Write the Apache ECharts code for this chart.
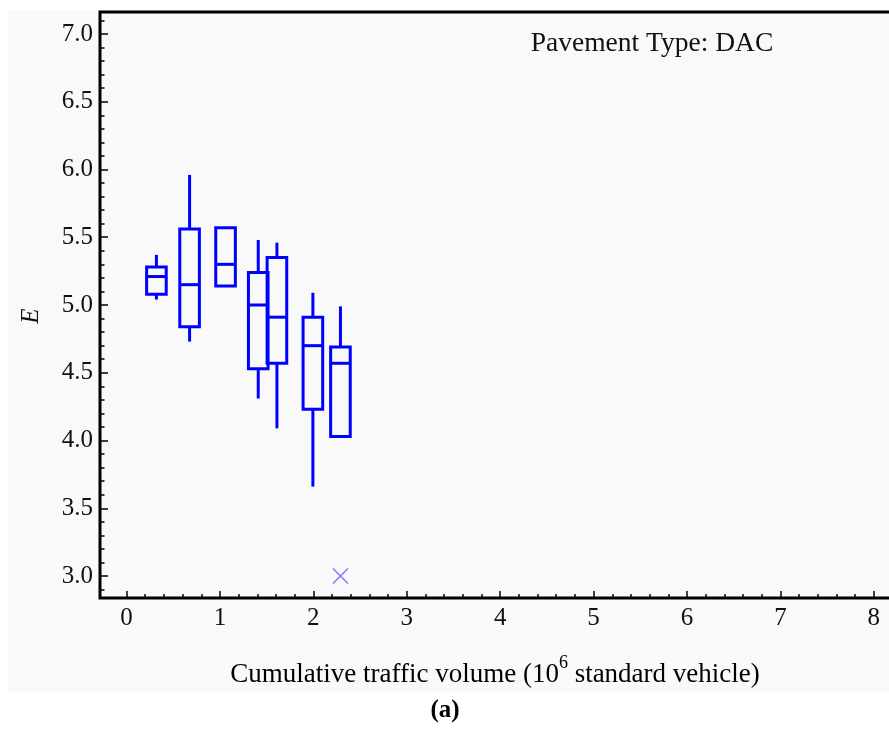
<!DOCTYPE html>
<html>
<head>
<meta charset="utf-8">
<script src="https://cdn.jsdelivr.net/npm/echarts@6/dist/echarts.min.js"></script>
<style>
  html, body { margin: 0; padding: 0; background: #ffffff; }
  #chart { width: 889px; height: 729px; }
</style>
</head>
<body>
<div id="chart"></div>
<script>
// Box statistics of E per traffic level (DAC pavement)
const trafficLevels = [0.32, 0.675, 1.06, 1.41, 1.61, 1.995, 2.29];
const whiskerLow    = [5.04, 4.73, 5.14, 4.31, 4.09, 3.66, 4.03];
const quartile1     = [5.08, 4.84, 5.14, 4.53, 4.57, 4.23, 4.03];
const medians       = [5.21, 5.15, 5.30, 5.00, 4.91, 4.70, 4.57];
const quartile3     = [5.28, 5.56, 5.57, 5.24, 5.35, 4.91, 4.69];
const whiskerHigh   = [5.37, 5.96, 5.57, 5.48, 5.46, 5.09, 4.99];

// Single outlier
const outlierPoints = [[2.29, 3.0]];

// Axis tick labels
const xTickValues = [0, 1, 2, 3, 4, 5, 6, 7, 8];
const yTickValues = [3.0, 3.5, 4.0, 4.5, 5.0, 5.5, 6.0, 6.5, 7.0];

const X_MIN = -0.284, X_MAX = 8.28;
const Y_MIN = 2.838, Y_MAX = 7.162;
const BOX_WIDTH = 0.21;
const FONT = '"Liberation Serif", "Times New Roman", serif';
const BLUE = '#0000ff';

// minor tick positions between the labelled ticks
const xMinor = [];
for (let i = 0; i <= 41; i++) xMinor.push(+(i * 0.2).toFixed(2));
const yMinor = [];
for (let i = 28; i <= 72; i++) yMinor.push(+(i * 0.1).toFixed(2));

const boxData = trafficLevels.map((x, i) =>
  [x, whiskerLow[i], quartile1[i], medians[i], quartile3[i], whiskerHigh[i]]);

function renderBox(params, api) {
  const x = api.value(0);
  const lo = api.coord([x, api.value(1)]);
  const b1 = api.coord([x, api.value(2)]);
  const md = api.coord([x, api.value(3)]);
  const b3 = api.coord([x, api.value(4)]);
  const hi = api.coord([x, api.value(5)]);
  const half = api.size([BOX_WIDTH, 0])[0] / 2;
  const stroke = { stroke: BLUE, lineWidth: 3, fill: 'none' };
  const children = [
    { type: 'rect', shape: { x: b3[0] - half, y: b3[1], width: 2 * half, height: b1[1] - b3[1] }, style: stroke },
    { type: 'line', shape: { x1: md[0] - half, y1: md[1], x2: md[0] + half, y2: md[1] }, style: stroke }
  ];
  if (hi[1] < b3[1] - 0.5) {
    children.push({ type: 'line', shape: { x1: hi[0], y1: hi[1], x2: b3[0], y2: b3[1] }, style: stroke });
  }
  if (lo[1] > b1[1] + 0.5) {
    children.push({ type: 'line', shape: { x1: b1[0], y1: b1[1], x2: lo[0], y2: lo[1] }, style: stroke });
  }
  return { type: 'group', children };
}

const tickLine = { color: '#000', width: 1.5 };
const labelStyle = { fontFamily: FONT, fontSize: 25, color: '#111' };
const hiddenLine = { show: false, onZero: false };

const chart = echarts.init(document.getElementById('chart'), null, { renderer: 'canvas' });
chart.setOption({
  animation: false,
  backgroundColor: '#ffffff',
  grid: {
    left: 100, top: 12, width: 800, height: 586,
    show: true, borderColor: '#000', borderWidth: 3, backgroundColor: 'transparent',
    containLabel: false, outerBoundsMode: 'none'
  },
  xAxis: [
    {
      type: 'value', min: X_MIN, max: X_MAX, position: 'bottom',
      axisLine: hiddenLine, splitLine: { show: false },
      axisTick: { show: true, inside: true, length: 7, customValues: xTickValues, lineStyle: tickLine },
      axisLabel: Object.assign({ customValues: xTickValues, margin: 8 }, labelStyle)
    },
    {
      type: 'value', min: X_MIN, max: X_MAX, position: 'bottom',
      axisLine: hiddenLine, splitLine: { show: false },
      axisTick: { show: true, inside: true, length: 4, customValues: xMinor, lineStyle: tickLine },
      axisLabel: { show: false }
    }
  ],
  yAxis: [
    {
      type: 'value', min: Y_MIN, max: Y_MAX, position: 'left',
      axisLine: hiddenLine, splitLine: { show: false },
      axisTick: { show: true, inside: true, length: 8, customValues: yTickValues, lineStyle: tickLine },
      axisLabel: Object.assign({ customValues: yTickValues, margin: 7, formatter: v => v.toFixed(1) }, labelStyle)
    },
    {
      type: 'value', min: Y_MIN, max: Y_MAX, position: 'left',
      axisLine: hiddenLine, splitLine: { show: false },
      axisTick: { show: true, inside: true, length: 4.5, customValues: yMinor, lineStyle: tickLine },
      axisLabel: { show: false }
    }
  ],
  graphic: [
    {
      type: 'rect', silent: true, z: -10,
      shape: { x: 8, y: 10, width: 881, height: 683 },
      style: { fill: '#f9f9f9' }
    },
    {
      type: 'text', x: 652, y: 44,
      style: { text: 'Pavement Type: DAC', font: '27.5px ' + FONT, fill: '#111', align: 'center', verticalAlign: 'middle' }
    },
    {
      type: 'text', x: 31, y: 316, rotation: Math.PI / 2,
      style: { text: 'E', font: 'italic 25px ' + FONT, fill: '#111', align: 'center', verticalAlign: 'middle' }
    },
    {
      type: 'text', x: 495, y: 671,
      style: {
        text: '{b|Cumulative traffic volume (10}{s|6}{b| standard vehicle)}',
        align: 'center', verticalAlign: 'middle',
        rich: {
          b: { fontFamily: FONT, fontSize: 27, lineHeight: 34, color: '#111', verticalAlign: 'bottom' },
          s: { fontFamily: FONT, fontSize: 18, lineHeight: 18, color: '#111', verticalAlign: 'top' }
        }
      }
    },
    {
      type: 'text', x: 445, y: 711,
      style: { text: '(a)', font: 'bold 25px ' + FONT, fill: '#000', align: 'center', verticalAlign: 'middle' }
    }
  ],
  series: [
    {
      type: 'custom', name: 'E', xAxisIndex: 0, yAxisIndex: 0,
      renderItem: renderBox, data: boxData, encode: { x: 0, y: [1, 2, 3, 4, 5] }
    },
    {
      type: 'scatter', name: 'Outlier', xAxisIndex: 0, yAxisIndex: 0,
      data: outlierPoints, symbol: 'path://M0 0L10 10M10 0L0 10', symbolSize: 15,
      itemStyle: { color: 'none', borderColor: '#5c5cff', borderWidth: 1.5 }
    }
  ]
});
</script>
</body>
</html>
